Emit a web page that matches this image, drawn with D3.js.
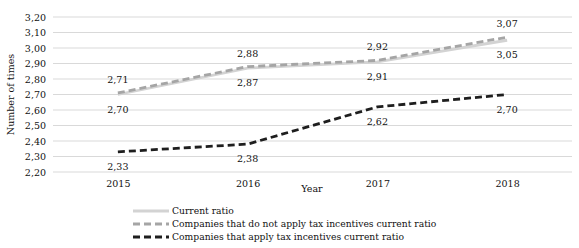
<!DOCTYPE html>
<html lang="en">
<head>
<meta charset="utf-8">
<title>Current ratio</title>
<script src="https://cdn.jsdelivr.net/npm/d3@7"></script>
<style>
body { margin: 0; background: #fff; }
text { font-family: "DejaVu Serif", serif; font-size: 9.5px; fill: #111; }
.legend text { font-size: 9.2px; }
.grid line { stroke: #d9d9d9; stroke-width: 1; }
.axis path, .axis line { display: none; }
</style>
</head>
<body>
<script>
var years = ["2015", "2016", "2017", "2018"];
var currentRatio = [2.70, 2.87, 2.91, 3.05];
var noIncentive = [2.71, 2.88, 2.92, 3.07];
var withIncentive = [2.33, 2.38, 2.62, 2.70];
var yTicks = [2.2, 2.3, 2.4, 2.5, 2.6, 2.7, 2.8, 2.9, 3.0, 3.1, 3.2];
var seriesNames = ["Current ratio",
  "Companies that do not apply tax incentives current ratio",
  "Companies that apply tax incentives current ratio"];

var W = 579, H = 248;
var margin = {top: 17, right: 7, bottom: 76, left: 53};
var w = W - margin.left - margin.right,
    h = H - margin.top - margin.bottom;

var svg = d3.select("body").append("svg")
    .attr("width", W).attr("height", H);
var g = svg.append("g")
    .attr("transform", "translate(" + margin.left + "," + margin.top + ")");

var x = d3.scalePoint().domain(years).range([0, w]).padding(0.5);
var y = d3.scaleLinear().domain([2.2, 3.2]).range([h, 0]);
var fmt = function(v) { return d3.format(".2f")(v).replace(".", ","); };

// gridlines
g.append("g").attr("class", "grid")
  .selectAll("line").data(yTicks).enter().append("line")
    .attr("x1", 0).attr("x2", w)
    .attr("y1", function(d) { return y(d); })
    .attr("y2", function(d) { return y(d); });

var yAxis = g.append("g").attr("class", "axis")
    .call(d3.axisLeft(y).tickValues(yTicks).tickFormat(fmt).tickSize(0).tickPadding(7));
yAxis.selectAll("text").attr("dy", "0.35em");

var xAxis = g.append("g").attr("class", "axis")
    .attr("transform", "translate(0," + h + ")")
    .call(d3.axisBottom(x).tickSize(0).tickPadding(8));

g.append("text")
    .attr("x", 259).attr("y", h + 20)
    .attr("text-anchor", "middle")
    .text("Year");

svg.append("text")
    .attr("transform", "translate(14," + (margin.top + h / 2) + ") rotate(-90)")
    .attr("text-anchor", "middle")
    .text("Number of times");

var styles = [
  {data: currentRatio, color: "#d3d3d3", dash: null, labelDy: 18},
  {data: noIncentive, color: "#a5a5a5", dash: "7,4", labelDy: -10},
  {data: withIncentive, color: "#1e1e1e", dash: "7,4", labelDy: 18}
];

var line = d3.line()
    .x(function(d, i) { return x(years[i]); })
    .y(function(d) { return y(d); });

styles.forEach(function(s) {
  g.append("path")
    .datum(s.data)
    .attr("fill", "none")
    .attr("stroke", s.color)
    .attr("stroke-width", 2.8)
    .attr("stroke-dasharray", s.dash)
    .attr("d", line);
});

styles.forEach(function(s) {
  g.selectAll(null).data(s.data).enter().append("text")
    .attr("x", function(d, i) { return x(years[i]); })
    .attr("y", function(d) { return y(d) + s.labelDy; })
    .attr("text-anchor", "middle")
    .text(fmt);
});

// legend
var legend = svg.append("g").attr("class", "legend")
    .attr("transform", "translate(133,211)");
styles.forEach(function(s, i) {
  var row = legend.append("g").attr("transform", "translate(0," + i * 13 + ")");
  row.append("line")
    .attr("x1", 0).attr("x2", 36).attr("y1", 0).attr("y2", 0)
    .attr("stroke", s.color).attr("stroke-width", 2.8)
    .attr("stroke-dasharray", s.dash);
  row.append("text")
    .attr("x", 39).attr("y", 0).attr("dy", "0.35em")
    .text(seriesNames[i]);
});
</script>
</body>
</html>
